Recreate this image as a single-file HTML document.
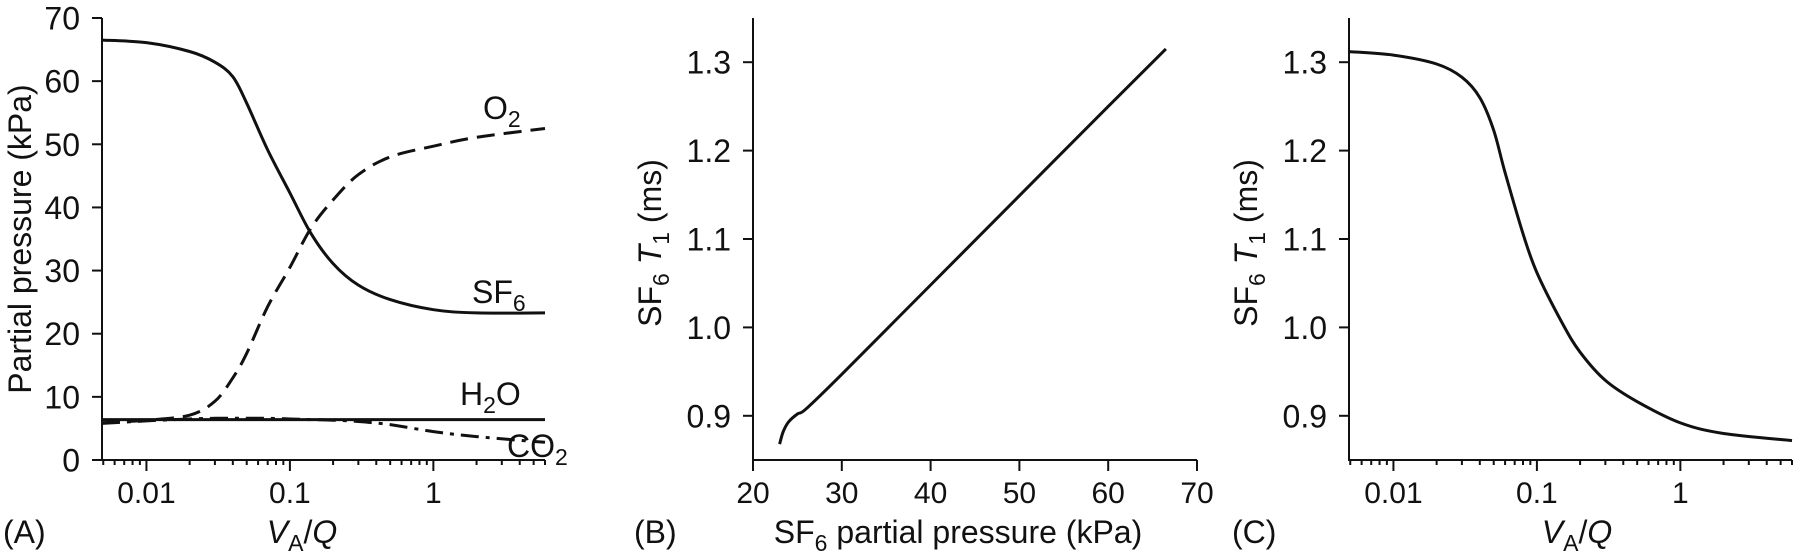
<!DOCTYPE html>
<html><head><meta charset="utf-8"><style>
html,body{margin:0;padding:0;background:#fff}
svg{display:block;font-family:"Liberation Sans",sans-serif}
</style></head><body>
<svg id="fig" width="1800" height="559" viewBox="0 0 1800 559" xmlns="http://www.w3.org/2000/svg">
<g id="pa"></g>
<g id="pb"></g>
<g id="pc"></g>
</svg>
<script>
// Panel A data (x = VA/Q, log scale)
const aX = [0.0049,0.01,0.02,0.03,0.04,0.05,0.07,0.1,0.14,0.2,0.3,0.5,1,2,6];
const aSF6 = [66.5,66.1,64.7,63,60.7,56.5,49.1,42.3,35.9,31.1,27.7,25.4,23.8,23.3,23.3];
const aO2 = [5.9,6.3,7.1,9.3,13,16.9,24.3,30.5,36.7,41.2,45.2,48,49.7,51.1,52.5];
const aH2O = [6.4,6.4,6.4,6.4,6.4,6.4,6.4,6.4,6.4,6.4,6.4,6.4,6.4,6.4,6.4];
const aCO2 = [5.8,6.2,6.5,6.6,6.6,6.6,6.6,6.5,6.4,6.3,6.1,5.6,4.5,3.7,2.8];
const aYTicks = [0,10,20,30,40,50,60,70];
const logTicks = [0.01,0.1,1];
const logTickLabels = ['0.01','0.1','1'];
// Panel B data
const bX = [23,23.4,24,25,26,30,40,50,60,66.5];
const bY = [0.868,0.882,0.893,0.902,0.908,0.947,1.048,1.149,1.250,1.315];
const bXTicks = [20,30,40,50,60,70];
const t1Ticks = [0.9,1.0,1.1,1.2,1.3];
const t1TickLabels = ['0.9','1.0','1.1','1.2','1.3'];
// Panel C data
const cX = [0.0049,0.01,0.02,0.03,0.04,0.05,0.06,0.08,0.1,0.15,0.2,0.3,0.5,1,2,6];
const cY = [1.312,1.308,1.298,1.283,1.260,1.223,1.175,1.106,1.062,1.005,0.972,0.940,0.916,0.892,0.880,0.872];

const NS='http://www.w3.org/2000/svg';
function mk(parent,tag,attrs){const e=document.createElementNS(NS,tag);for(const k in attrs)e.setAttribute(k,attrs[k]);parent.appendChild(e);return e;}
const YFS=32, XFS=30, TFS=32, SUB=23;
function logScale(x0,x1,d0,d1){const l0=Math.log10(d0),l1=Math.log10(d1);return v=>x0+(Math.log10(v)-l0)/(l1-l0)*(x1-x0);}
function linScale(p0,p1,d0,d1){return v=>p0+(v-d0)/(d1-d0)*(p1-p0);}
function smoothPath(pts){
  let d='M'+pts[0][0].toFixed(1)+','+pts[0][1].toFixed(1);
  for(let i=0;i<pts.length-1;i++){
    const p0=pts[Math.max(0,i-1)],p1=pts[i],p2=pts[i+1],p3=pts[Math.min(pts.length-1,i+2)];
    const c1=[p1[0]+(p2[0]-p0[0])/6,p1[1]+(p2[1]-p0[1])/6];
    const c2=[p2[0]-(p3[0]-p1[0])/6,p2[1]-(p3[1]-p1[1])/6];
    d+=` C${c1[0].toFixed(1)},${c1[1].toFixed(1)} ${c2[0].toFixed(1)},${c2[1].toFixed(1)} ${p2[0].toFixed(1)},${p2[1].toFixed(1)}`;
  }
  return d;
}
function line(g,xs,ys,sx,sy,name,dash){
  const pts=xs.map((x,i)=>[sx(x),sy(ys[i])]);
  const p=mk(g,'path',{d:smoothPath(pts),fill:'none',stroke:'#111','stroke-width':3,'stroke-linejoin':'round'});
  if(dash)p.setAttribute('stroke-dasharray',dash);
  
  
  return p;
}
function axes(g,left,right,top,bottom){
  const a=mk(g,'path',{d:`M${left},${top} L${left},${bottom} L${right},${bottom}`,fill:'none',stroke:'#111','stroke-width':2});
  
  
}
function yTicks(g,left,vals,labels,sy){
  vals.forEach((v,i)=>{
    const y=sy(v);
    mk(g,'line',{x1:left-10,y1:y,x2:left,y2:y,stroke:'#111','stroke-width':2});
    const t=mk(g,'text',{x:left-22,y:y+11.5,'font-size':YFS,'text-anchor':'end',fill:'#111'});
    t.textContent=labels[i];
    
    
  });
}
function logXTicks(g,sx,bottom,d0,d1){
  for(let e=-3;e<=1;e++){for(let m=1;m<10;m++){const v=m*Math.pow(10,e);if(v<d0||v>d1)continue;const x=sx(v);
    mk(g,'line',{x1:x,y1:bottom,x2:x,y2:bottom+(m===1?11:5),stroke:'#111','stroke-width':2});}}
  logTicks.forEach((v,i)=>{
    const t=mk(g,'text',{x:sx(v),y:503,'font-size':XFS,'text-anchor':'middle',fill:'#111'});
    t.textContent=logTickLabels[i];
    
    
  });
}
function vaqTitle(g,cx){
  const t=mk(g,'text',{x:cx,y:543,'font-size':TFS,'text-anchor':'middle',fill:'#111'});
  t.innerHTML=`<tspan font-style="italic">V</tspan><tspan font-size="${SUB}" dy="8">A</tspan><tspan dy="-8">/</tspan><tspan font-style="italic">Q</tspan>`;
  
  
}
function txt(g,x,y,html,name,anchor,rot){
  const t=mk(g,'text',{x:x,y:y,'font-size':TFS,fill:'#111','text-anchor':anchor||'start'});
  if(rot)t.setAttribute('transform',`rotate(-90 ${x} ${y})`);
  t.innerHTML=html;
  
  
  return t;
}
const sub=s=>`<tspan font-size="${SUB}" dy="8">${s}</tspan>`;

// ---- Panel A
(function(){
  const g=document.getElementById('pa');
  const L=102,R=545,T=18,B=460,D0=0.0049,D1=6;
  const sx=logScale(L,R,D0,D1), sy=linScale(B,T,0,70);
  axes(g,L,R,T,B);
  yTicks(g,L,aYTicks,aYTicks.map(String),sy);
  logXTicks(g,sx,B,D0,D1);
  line(g,aX,aH2O,sx,sy,'h2o-line');
  line(g,aX,aCO2,sx,sy,'co2-line','18 7 4 7');
  line(g,aX,aO2,sx,sy,'o2-line','18 9');
  line(g,aX,aSF6,sx,sy,'sf6-line');
  txt(g,483,119,'O'+sub('2'),'o2-label');
  txt(g,472,303,'SF'+sub('6'),'sf6-label');
  txt(g,460,405,'H'+sub('2')+'<tspan dy="-8">O</tspan>','h2o-label');
  txt(g,507,457,'CO'+sub('2'),'co2-label');
  txt(g,31,239,'Partial pressure (kPa)','y-axis-title','middle',true);
  txt(g,3,543,'(A)','panel-label-a');
  vaqTitle(g,302);
})();

// ---- Panel B
(function(){
  const g=document.getElementById('pb');
  const L=753,R=1197,T=18,B=460;
  const sx=linScale(L,R,20,70), sy=linScale(B,T,0.85,1.35);
  axes(g,L,R,T,B);
  yTicks(g,L,t1Ticks,t1TickLabels,sy);
  bXTicks.forEach(v=>{const x=sx(v);mk(g,'line',{x1:x,y1:B,x2:x,y2:B+11,stroke:'#111','stroke-width':2});
    const t=mk(g,'text',{x:x,y:503,'font-size':XFS,'text-anchor':'middle',fill:'#111'});t.textContent=String(v);
    
    });
  line(g,bX,bY,sx,sy,'t1-vs-sf6-line');
  txt(g,661,243,'SF'+sub('6')+'<tspan dy="-8"> </tspan><tspan font-style="italic">T</tspan>'+sub('1')+'<tspan dy="-8"> (ms)</tspan>','y-axis-title','middle',true);
  txt(g,958,543,'SF'+sub('6')+'<tspan dy="-8"> partial pressure (kPa)</tspan>','x-axis-title','middle');
  txt(g,634,543,'(B)','panel-label-b');
})();

// ---- Panel C
(function(){
  const g=document.getElementById('pc');
  const L=1349,R=1792,T=18,B=460,D0=0.0049,D1=6;
  const sx=logScale(L,R,D0,D1), sy=linScale(B,T,0.85,1.35);
  axes(g,L,R,T,B);
  yTicks(g,L,t1Ticks,t1TickLabels,sy);
  logXTicks(g,sx,B,D0,D1);
  line(g,cX,cY,sx,sy,'t1-vs-vaq-line');
  txt(g,1257,243,'SF'+sub('6')+'<tspan dy="-8"> </tspan><tspan font-style="italic">T</tspan>'+sub('1')+'<tspan dy="-8"> (ms)</tspan>','y-axis-title','middle',true);
  txt(g,1232,543,'(C)','panel-label-c');
  vaqTitle(g,1577);
})();
</script>
</body></html>
